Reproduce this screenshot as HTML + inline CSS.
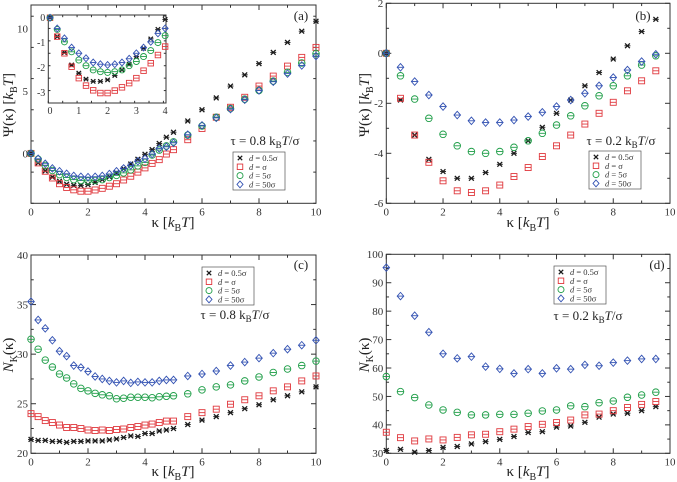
<!DOCTYPE html>
<html><head><meta charset="utf-8"><style>
html,body{margin:0;padding:0;background:#fff;}
svg{display:block;font-family:"Liberation Serif",serif;}
</style></head><body>
<svg id="chart" width="677" height="482" viewBox="0 0 677 482" xmlns="http://www.w3.org/2000/svg"></svg>
<script>
// ---------- data ----------
const kappaA = [0,0.25,0.5,0.75,1,1.25,1.5,1.75,2,2.25,2.5,2.75,3,3.25,3.5,3.75,4,4.25,4.5,4.75,5,5.5,6,6.5,7,7.5,8,8.5,9,9.5,10];
const kappaB = [0,0.5,1,1.5,2,2.5,3,3.5,4,4.5,5,5.5,6,6.5,7,7.5,8,8.5,9,9.5];
const kappaInset = [0,0.25,0.5,0.75,1,1.25,1.5,1.75,2,2.25,2.5,2.75,3,3.25,3.5,3.75,4];

const psiA_d05 = [0,-0.76,-1.4,-1.9,-2.23,-2.47,-2.56,-2.56,-2.5,-2.32,-2.1,-1.87,-1.56,-1.23,-0.85,-0.47,-0.07,0.3,0.8,1.3,1.7,2.6,3.5,4.45,5.4,6.3,7.2,8.1,8.9,9.8,10.6];
const psiA_d1 = [0,-0.76,-1.43,-1.97,-2.43,-2.73,-2.92,-3.03,-3.03,-2.93,-2.8,-2.63,-2.43,-2.13,-1.83,-1.5,-1.16,-0.8,-0.5,-0.05,0.3,1.1,2.0,2.9,3.7,4.5,5.4,6.2,7.0,7.7,8.5];
const psiA_d5 = [0,-0.47,-0.97,-1.37,-1.7,-1.93,-2.1,-2.17,-2.2,-2.17,-2.1,-1.93,-1.76,-1.56,-1.32,-1.0,-0.72,-0.13,0.27,0.6,0.93,1.47,2.2,2.9,3.6,4.35,5.05,5.8,6.5,7.25,8.0];
const psiA_d50 = [0,-0.43,-0.83,-1.2,-1.43,-1.63,-1.8,-1.87,-1.9,-1.87,-1.8,-1.65,-1.43,-1.2,-0.97,-0.63,-0.43,-0.05,0.4,0.53,0.85,1.5,2.25,2.85,3.55,4.3,5.05,5.75,6.4,7.05,7.8];

const psiB_d05 = [0,-1.87,-3.27,-4.24,-4.73,-5.0,-5.0,-4.77,-4.44,-4.0,-3.5,-2.96,-2.4,-1.87,-1.3,-0.77,-0.23,0.3,0.87,1.36];
const psiB_d1 = [0,-1.8,-3.27,-4.36,-5.1,-5.5,-5.57,-5.5,-5.27,-4.93,-4.57,-4.13,-3.7,-3.27,-2.83,-2.4,-1.96,-1.5,-1.1,-0.7];
const psiB_d5 = [0,-0.9,-1.83,-2.6,-3.24,-3.7,-3.93,-4.0,-3.93,-3.76,-3.5,-3.2,-2.87,-2.5,-2.1,-1.7,-1.3,-0.9,-0.47,-0.1];
const psiB_d50 = [0,-0.56,-1.13,-1.67,-2.13,-2.47,-2.7,-2.77,-2.77,-2.67,-2.53,-2.36,-2.13,-1.87,-1.6,-1.3,-0.97,-0.67,-0.33,-0.04];

const nC_d05 = [21.4,21.3,21.3,21.2,21.2,21.1,21.2,21.2,21.25,21.25,21.25,21.35,21.45,21.6,21.75,21.7,22.0,22.0,22.25,22.35,22.5,22.9,23.35,23.7,24.1,24.5,24.9,25.4,25.8,26.2,26.7];
const nC_d1 = [24.0,23.7,23.3,23.1,22.85,22.6,22.6,22.5,22.35,22.3,22.35,22.3,22.4,22.45,22.6,22.7,22.85,22.95,23.1,23.25,23.25,23.7,24.1,24.45,24.95,25.4,25.8,26.3,26.7,27.3,27.8];
const nC_d5 = [31.5,30.5,29.4,28.7,28.0,27.6,27.0,26.55,26.3,26.05,25.9,25.8,25.5,25.55,25.65,25.65,25.65,25.6,25.7,25.75,25.8,26.0,26.4,26.7,26.9,27.3,27.7,28.15,28.5,28.85,29.3];
const nC_d50 = [35.3,33.45,32.6,31.4,30.3,29.8,28.85,28.65,28.25,27.75,27.5,27.3,27.15,27.3,27.1,27.2,27.15,27.15,27.3,27.4,27.4,27.8,28.0,28.3,28.85,29.2,29.6,30.1,30.5,30.9,31.4];

const nD_d05 = [31.0,31.4,30.4,31.0,32.1,32.4,33.3,34.1,34.9,35.9,37.3,37.6,39.2,39.6,40.9,42.7,43.8,44.1,45.0,46.4];
const nD_d1 = [37.4,35.5,34.35,35.05,34.7,35.6,36.5,36.7,37.6,38.5,39.4,40.2,40.8,41.7,43.5,43.8,45.0,46.1,47.2,48.2];
const nD_d5 = [57.0,51.7,49.6,47.0,45.25,44.4,43.5,43.5,43.7,43.7,44.1,44.9,45.25,46.7,46.4,47.8,48.4,49.7,50.5,51.5];
const nD_d50 = [95.3,85.3,78.4,72.6,65.0,63.4,64.0,60.5,59.7,58.1,59.6,58.1,59.9,59.6,61.1,60.8,61.9,62.6,63.2,63.2];

const ticksA_x = [0,2,4,6,8,10];
const ticksA_y = [0,5,10];
const ticksB_y = [-6,-4,-2,0,2];
const ticksC_y = [20,25,30,35,40];
const ticksD_y = [30,40,50,60,70,80,90,100];
const ticksInset_x = [0,1,2,3,4];
const ticksInset_y = [-3,-2,-1,0];
const legendLabels = ["0.5σ","σ","5σ","50σ"];

// ---------- drawing ----------
const NS = "http://www.w3.org/2000/svg";
const svg = document.getElementById('chart');
const COLORS = ["#1a1a1a","#e0393e","#1f9e48","#3453b3"];
const SHAPES = ["x","sq","ci","di"];
function mk(tag, attrs, parent){
  const e = document.createElementNS(NS, tag);
  for (const k in attrs) e.setAttribute(k, attrs[k]);
  (parent||svg).appendChild(e);
  return e;
}
function marker(g, shape, color, cx, cy, s){
  let e;
  if (shape==="x"){
    const h = s*0.4;
    e = mk('path',{d:`M${cx-h},${cy-h}L${cx+h},${cy+h}M${cx-h},${cy+h}L${cx+h},${cy-h}`,stroke:color,'stroke-width':1.3,fill:'none'},g);
  } else if (shape==="sq"){
    e = mk('rect',{x:cx-s*0.5,y:cy-s*0.5,width:s,height:s,stroke:color,'stroke-width':0.9,fill:'none'},g);
  } else if (shape==="ci"){
    e = mk('circle',{cx:cx,cy:cy,r:s*0.55,stroke:color,'stroke-width':0.9,fill:'none'},g);
  } else {
    e = mk('path',{d:`M${cx},${cy-s*0.62}L${cx+s*0.55},${cy}L${cx},${cy+s*0.62}L${cx-s*0.55},${cy}Z`,stroke:color,'stroke-width':0.9,fill:'none'},g);
  }
  return e;
}
function panel(cfg){
  const g = mk('g',{});
  
  
  const X = v => cfg.L + (v-cfg.x0)/(cfg.x1-cfg.x0)*(cfg.R-cfg.L);
  const Y = v => cfg.B - (v-cfg.y0)/(cfg.y1-cfg.y0)*(cfg.B-cfg.T);
  const frame = mk('rect',{x:cfg.L,y:cfg.T,width:cfg.R-cfg.L,height:cfg.B-cfg.T,fill:'#fff',stroke:'#333','stroke-width':1},g);
  
  
  const tl = cfg.tickLen||5, fs = cfg.fs||11;
  for (let v=cfg.x0; v<=cfg.x1+1e-9; v+=cfg.xMinor){
    const major = Math.abs(v/cfg.xMajor - Math.round(v/cfg.xMajor))<1e-6;
    const l = major?tl:tl*0.55, x=X(v);
    mk('line',{x1:x,y1:cfg.B,x2:x,y2:cfg.B-l,stroke:'#333'},g);
    mk('line',{x1:x,y1:cfg.T,x2:x,y2:cfg.T+l,stroke:'#333'},g);
  }
  cfg.xt.forEach(v=>{
    const t = mk('text',{x:X(v),y:cfg.B+fs+1,'font-size':fs,'text-anchor':'middle',fill:'#333'},g);
    t.textContent = v;
    
    
  });
  for (let v=cfg.y0; v<=cfg.y1+1e-9; v+=cfg.yMinor){
    const major = Math.abs(v/cfg.yMajor - Math.round(v/cfg.yMajor))<1e-6;
    const l = major?tl:tl*0.55, y=Y(v);
    mk('line',{x1:cfg.L,y1:y,x2:cfg.L+l,y2:y,stroke:'#333'},g);
    mk('line',{x1:cfg.R,y1:y,x2:cfg.R-l,y2:y,stroke:'#333'},g);
  }
  cfg.yt.forEach(v=>{
    const t = mk('text',{x:cfg.L-3,y:Y(v)+fs*0.35,'font-size':fs,'text-anchor':'end',fill:'#333'},g);
    t.textContent = v;
    
    
  });
  cfg.series.forEach((ys,i)=>{
    const sg = mk('g',{},g);
    
    
    ys.forEach((v,j)=>{
      const cx = X(cfg.xs[j]), cy = Y(v), s = cfg.ms||6;
      mk('line',{x1:cx-s*0.5,y1:cy,x2:cx+s*0.5,y2:cy,stroke:COLORS[i],'stroke-width':0.9},sg);
      const m = marker(sg, SHAPES[i], COLORS[i], cx, cy, s);
      
      
    });
  });
  return g;
}
function legend(x,y){
  const g = mk('g',{});
  
  
  mk('rect',{x:x,y:y,width:52,height:38,fill:'#fff',stroke:'#555','stroke-width':0.7},g);
  legendLabels.forEach((lab,i)=>{
    const yy = y+6+i*8.8;
    const m = marker(g, SHAPES[i], COLORS[i], x+7, yy, 5.5);
    
    
    const t = mk('text',{x:x+16,y:yy+3,'font-size':8.5,fill:'#333'},g);
    t.innerHTML = '<tspan font-style="italic">d</tspan> = '+lab;
    
    
  });
}
function text(x,y,html,fs,name,rot){
  const t = mk('text',{x:x,y:y,'font-size':fs,'text-anchor':'middle',fill:'#222'});
  if (rot) t.setAttribute('transform',`rotate(-90 ${x} ${y})`);
  t.innerHTML = html;
  
  
}

panel({name:'panel-a',L:31,R:316,T:5,B:203.3,x0:0,x1:10,y0:-4,y1:11.9,xMajor:2,xMinor:1,yMajor:5,yMinor:2.5,xt:ticksA_x,yt:ticksA_y,xs:kappaA,series:[psiA_d05,psiA_d1,psiA_d5,psiA_d50]});
panel({name:'inset-a',L:48.3,R:166,T:15,B:103,x0:-0.06,x1:4.03,y0:-3.43,y1:0.11,xMajor:1,xMinor:0.5,yMajor:1,yMinor:0.5,xt:ticksInset_x,yt:ticksInset_y,xs:kappaInset,series:[psiA_d05.slice(0,17),psiA_d1.slice(0,17),psiA_d5.slice(0,17),psiA_d50.slice(0,17)],fs:10,tickLen:4,ms:5.5});
panel({name:'panel-b',L:386.3,R:670,T:3.3,B:203.3,x0:0,x1:10,y0:-6,y1:2,xMajor:2,xMinor:1,yMajor:2,yMinor:1,xt:ticksA_x,yt:ticksB_y,xs:kappaB,series:[psiB_d05,psiB_d1,psiB_d5,psiB_d50]});
panel({name:'panel-c',L:31,R:316,T:255,B:453.3,x0:0,x1:10,y0:20,y1:40,xMajor:2,xMinor:1,yMajor:5,yMinor:2.5,xt:ticksA_x,yt:ticksC_y,xs:kappaA,series:[nC_d05,nC_d1,nC_d5,nC_d50]});
panel({name:'panel-d',L:386.3,R:670,T:254.3,B:453.3,x0:0,x1:10,y0:30,y1:100,xMajor:2,xMinor:1,yMajor:10,yMinor:5,xt:ticksA_x,yt:ticksD_y,xs:kappaB,series:[nD_d05,nD_d1,nD_d5,nD_d50]});

legend(233,152); legend(589,151); legend(202,267); legend(554,266);

const xl = 'κ [<tspan font-style="italic">k</tspan><tspan font-size="10" dy="4">B</tspan><tspan dy="-4" font-style="italic">T</tspan>]';
text(173,227,xl,15,'x-axis-title-a'); text(528,227,xl,15,'x-axis-title-b');
text(173,476,xl,15,'x-axis-title-c'); text(528,476,xl,15,'x-axis-title-d');
const yl1 = 'Ψ(κ) [<tspan font-style="italic">k</tspan><tspan font-size="10" dy="4">B</tspan><tspan dy="-4" font-style="italic">T</tspan>]';
const yl2 = '<tspan font-style="italic">N</tspan><tspan font-size="10" dy="4">K</tspan><tspan dy="-4">(κ)</tspan>';
text(13,105,yl1,15,'y-axis-title-a',true); text(369,105,yl1,15,'y-axis-title-b',true);
text(13,355,yl2,15,'y-axis-title-c',true); text(369,355,yl2,15,'y-axis-title-d',true);
const tau1 = 'τ = 0.8 k<tspan font-size="9" dy="3">B</tspan><tspan dy="-3" font-style="italic">T</tspan>/σ';
const tau2 = 'τ = 0.2 k<tspan font-size="9" dy="3">B</tspan><tspan dy="-3" font-style="italic">T</tspan>/σ';
text(265,145,tau1,13,'tau-label-a'); text(621,145,tau2,13,'tau-label-b');
text(235,319,tau1,13,'tau-label-c'); text(588,320,tau2,13,'tau-label-d');
text(301,20,'(a)',13,'panel-label-a'); text(643,20,'(b)',13,'panel-label-b');
text(301,269,'(c)',13,'panel-label-c'); text(657,269,'(d)',13,'panel-label-d');
</script>
</body></html>
